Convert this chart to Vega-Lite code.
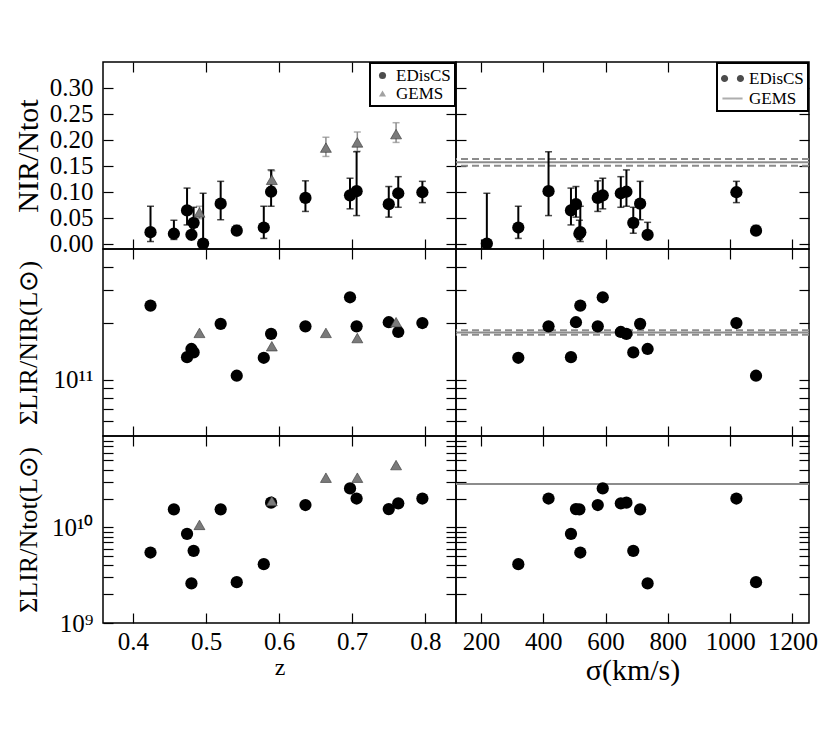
{
  "$schema": "https://vega.github.io/schema/vega-lite/v6.json",
  "padding": {"left": 12, "top": 60, "right": 5, "bottom": 5},
  "background": "white",
  "datasets": {
    "cl": [
      {"z": 0.424, "sig": 519, "f": 0.022, "flo": 0.004, "fhi": 0.072, "a": 2.49e11, "b": 5.45e9, "s": "EDisCS"},
      {"z": 0.456, "sig": 516, "f": 0.019, "flo": 0.008, "fhi": 0.045, "a": 8.1e11, "b": 1.54e10, "s": "EDisCS"},
      {"z": 0.474, "sig": 489, "f": 0.064, "flo": 0.036, "fhi": 0.107, "a": 1.32e11, "b": 8.55e9, "s": "EDisCS"},
      {"z": 0.480, "sig": 735, "f": 0.017, "flo": 0.008, "fhi": 0.041, "a": 1.46e11, "b": 2.59e9, "s": "EDisCS"},
      {"z": 0.483, "sig": 689, "f": 0.040, "flo": 0.020, "fhi": 0.070, "a": 1.40e11, "b": 5.68e9, "s": "EDisCS"},
      {"z": 0.496, "sig": 219, "f": 0.0, "flo": 0.0, "fhi": 0.097, "a": null, "b": null, "s": "EDisCS"},
      {"z": 0.520, "sig": 711, "f": 0.077, "flo": 0.046, "fhi": 0.120, "a": 1.99e11, "b": 1.54e10, "s": "EDisCS"},
      {"z": 0.542, "sig": 1083, "f": 0.025, "flo": 0.018, "fhi": 0.035, "a": 1.05e11, "b": 2.67e9, "s": "EDisCS"},
      {"z": 0.579, "sig": 320, "f": 0.031, "flo": 0.010, "fhi": 0.072, "a": 1.31e11, "b": 4.12e9, "s": "EDisCS"},
      {"z": 0.589, "sig": 667, "f": 0.100, "flo": 0.072, "fhi": 0.142, "a": 1.76e11, "b": 1.81e10, "s": "EDisCS"},
      {"z": 0.636, "sig": 575, "f": 0.088, "flo": 0.062, "fhi": 0.121, "a": 1.93e11, "b": 1.71e10, "s": "EDisCS"},
      {"z": 0.697, "sig": 591, "f": 0.093, "flo": 0.067, "fhi": 0.126, "a": 2.76e11, "b": 2.55e10, "s": "EDisCS"},
      {"z": 0.706, "sig": 417, "f": 0.101, "flo": 0.054, "fhi": 0.177, "a": 1.93e11, "b": 2.0e10, "s": "EDisCS"},
      {"z": 0.750, "sig": 505, "f": 0.076, "flo": 0.051, "fhi": 0.110, "a": 2.03e11, "b": 1.55e10, "s": "EDisCS"},
      {"z": 0.763, "sig": 649, "f": 0.097, "flo": 0.070, "fhi": 0.129, "a": 1.80e11, "b": 1.78e10, "s": "EDisCS"},
      {"z": 0.796, "sig": 1020, "f": 0.099, "flo": 0.079, "fhi": 0.120, "a": 2.01e11, "b": 2.0e10, "s": "EDisCS"}
    ],
    "gm": [
      {"z": 0.491, "f": 0.060, "flo": 0.048, "fhi": 0.072, "a": 1.78e11, "b": 1.06e10, "s": "GEMS"},
      {"z": 0.590, "f": 0.123, "flo": 0.110, "fhi": 0.140, "a": 1.51e11, "b": 1.88e10, "s": "GEMS"},
      {"z": 0.664, "f": 0.185, "flo": 0.168, "fhi": 0.205, "a": 1.78e11, "b": 3.3e10, "s": "GEMS"},
      {"z": 0.707, "f": 0.195, "flo": 0.178, "fhi": 0.215, "a": 1.67e11, "b": 3.3e10, "s": "GEMS"},
      {"z": 0.760, "f": 0.211, "flo": 0.195, "fhi": 0.233, "a": 2.03e11, "b": 4.47e10, "s": "GEMS"}
    ],
    "gl": [{"f": 0.157, "a": 1.79e11, "b": 2.83e10}],
    "gb": [{"f": 0.150, "a": 1.74e11}, {"f": 0.163, "a": 1.84e11}]
  },
  "columns": 2,
  "spacing": 0,
  "bounds": "flush",
  "concat": [
    {
      "width": 353, "height": 187,
      "encoding": {
        "x": {"field": "z", "type": "quantitative", "axis": null},
        "y": {"field": "f", "type": "quantitative", "axis": null}
      },
      "layer": [
        {"data": {"name": "cl"}, "mark": {"type": "point", "opacity": 0},
         "encoding": {
           "x": {"field": "z", "type": "quantitative", "scale": {"domain": [0.359, 0.842], "nice": false, "zero": false},
                 "axis": {"orient": "bottom", "values": [0.4, 0.5, 0.6, 0.7, 0.8], "labels": false, "title": null}},
           "y": {"field": "f", "type": "quantitative", "scale": {"domain": [-0.0104, 0.35], "nice": false, "zero": false},
                 "axis": {"orient": "left", "values": [0, 0.05, 0.1, 0.15, 0.2, 0.25, 0.3], "format": ".2f", "title": "NIR/Ntot", "titleX": -75, "titleBaseline": "middle"}}
         }},
        {"data": {"name": "cl"}, "mark": {"type": "point", "opacity": 0},
         "encoding": {
           "x": {"field": "z", "type": "quantitative", "axis": {"orient": "top", "values": [0.4, 0.5, 0.6, 0.7, 0.8], "labels": false, "title": null}},
           "y": {"field": "f", "type": "quantitative", "axis": {"orient": "right", "values": [0, 0.05, 0.1, 0.15, 0.2, 0.25, 0.3], "labels": false, "title": null}}
         }},
        {"data": {"name": "gm"}, "mark": {"type": "rule", "color": "#8c8c8c", "strokeWidth": 1.5},
         "encoding": {"y": {"field": "flo", "type": "quantitative", "axis": null}, "y2": {"field": "fhi"}}},
        {"data": {"name": "gm"}, "mark": {"type": "tick", "orient": "horizontal", "color": "#8c8c8c", "size": 7, "thickness": 1.5},
         "encoding": {"y": {"field": "flo", "type": "quantitative", "axis": null}}},
        {"data": {"name": "gm"}, "mark": {"type": "tick", "orient": "horizontal", "color": "#8c8c8c", "size": 7, "thickness": 1.5},
         "encoding": {"y": {"field": "fhi", "type": "quantitative", "axis": null}}},
        {"data": {"name": "cl"}, "mark": {"type": "rule", "color": "black", "strokeWidth": 2},
         "encoding": {"y": {"field": "flo", "type": "quantitative", "axis": null}, "y2": {"field": "fhi"}}},
        {"data": {"name": "cl"}, "mark": {"type": "tick", "orient": "horizontal", "color": "black", "size": 7, "thickness": 1.5},
         "encoding": {"y": {"field": "flo", "type": "quantitative", "axis": null}}},
        {"data": {"name": "cl"}, "mark": {"type": "tick", "orient": "horizontal", "color": "black", "size": 7, "thickness": 1.5},
         "encoding": {"y": {"field": "fhi", "type": "quantitative", "axis": null}}},
        {"data": {"name": "cl"}, "mark": {"type": "point", "shape": "circle", "filled": true, "color": "black", "size": 150, "opacity": 1, "clip": true}},
        {"data": {"name": "gm"}, "mark": {"type": "point", "shape": "triangle-up", "filled": true, "color": "#7a7a7a", "stroke": "#333333", "strokeWidth": 0.6, "size": 120, "opacity": 1, "clip": true}},
        {"data": {"name": "cl"}, "transform": [{"filter": "false"}], "mark": {"type": "point", "filled": true},
         "encoding": {
           "color": {"field": "s", "type": "nominal", "scale": {"domain": ["EDisCS", "GEMS"], "range": ["black", "#7a7a7a"]}, "legend": {"symbolSize": 50, "padding": 4}},
           "shape": {"field": "s", "type": "nominal", "scale": {"domain": ["EDisCS", "GEMS"], "range": ["circle", "triangle-up"]}, "legend": {"symbolSize": 50, "padding": 4}}
         }}
      ],
      "resolve": {"axis": {"x": "independent", "y": "independent"}}
    },
    {
      "width": 353, "height": 187,
      "encoding": {
        "y": {"field": "f", "type": "quantitative", "axis": null}
      },
      "layer": [
        {"data": {"name": "cl"}, "mark": {"type": "point", "opacity": 0},
         "encoding": {
           "x": {"field": "sig", "type": "quantitative", "scale": {"domain": [120, 1253], "nice": false, "zero": false},
                 "axis": {"orient": "bottom", "values": [200, 400, 600, 800, 1000, 1200], "labels": false, "title": null}},
           "y": {"field": "f", "type": "quantitative", "scale": {"domain": [-0.0104, 0.35], "nice": false, "zero": false},
                 "axis": {"orient": "left", "values": [0, 0.05, 0.1, 0.15, 0.2, 0.25, 0.3], "labels": false, "title": null}}
         }},
        {"data": {"name": "cl"}, "mark": {"type": "point", "opacity": 0},
         "encoding": {
           "x": {"field": "sig", "type": "quantitative", "axis": {"orient": "top", "values": [200, 400, 600, 800, 1000, 1200], "labels": false, "title": null}},
           "y": {"field": "f", "type": "quantitative", "axis": {"orient": "right", "values": [0, 0.05, 0.1, 0.15, 0.2, 0.25, 0.3], "labels": false, "title": null}}
         }},
        {"data": {"name": "gl"}, "mark": {"type": "rule", "color": "#8c8c8c", "strokeWidth": 2}, "encoding": {}},
        {"data": {"name": "gb"}, "mark": {"type": "rule", "color": "#8c8c8c", "strokeWidth": 2, "strokeDash": [7, 4]}, "encoding": {}},
        {"data": {"name": "cl"}, "mark": {"type": "rule", "color": "black", "strokeWidth": 2},
         "encoding": {"x": {"field": "sig", "type": "quantitative", "axis": null}, "y": {"field": "flo", "type": "quantitative", "axis": null}, "y2": {"field": "fhi"}}},
        {"data": {"name": "cl"}, "mark": {"type": "tick", "orient": "horizontal", "color": "black", "size": 7, "thickness": 1.5},
         "encoding": {"x": {"field": "sig", "type": "quantitative", "axis": null}, "y": {"field": "flo", "type": "quantitative", "axis": null}}},
        {"data": {"name": "cl"}, "mark": {"type": "tick", "orient": "horizontal", "color": "black", "size": 7, "thickness": 1.5},
         "encoding": {"x": {"field": "sig", "type": "quantitative", "axis": null}, "y": {"field": "fhi", "type": "quantitative", "axis": null}}},
        {"data": {"name": "cl"}, "mark": {"type": "point", "shape": "circle", "filled": true, "color": "black", "size": 150, "opacity": 1, "clip": true},
         "encoding": {"x": {"field": "sig", "type": "quantitative", "axis": null}}},
        {"data": {"name": "cl"}, "transform": [{"filter": "false"}], "mark": {"type": "point", "filled": true},
         "encoding": {
           "x": {"field": "sig", "type": "quantitative", "axis": null},
           "color": {"field": "s", "type": "nominal", "scale": {"domain": ["EDisCS", "GEMS"], "range": ["black", "#8c8c8c"]}, "legend": {"symbolSize": 500, "padding": 4}},
           "shape": {"field": "s", "type": "nominal", "scale": {"domain": ["EDisCS", "GEMS"], "range": ["M-1.03,0A0.32,0.32,0,1,1,-0.39,0A0.32,0.32,0,1,1,-1.03,0ZM0.39,0A0.32,0.32,0,1,1,1.03,0A0.32,0.32,0,1,1,0.39,0Z", "M-0.9,-0.09H0.9V0.09H-0.9Z"]}, "legend": {"symbolSize": 500, "padding": 4}}
         }}
      ],
      "resolve": {"axis": {"x": "independent", "y": "independent"}}
    },
    {
      "width": 353, "height": 187,
      "encoding": {
        "x": {"field": "z", "type": "quantitative", "axis": null},
        "y": {"field": "a", "type": "quantitative", "axis": null}
      },
      "layer": [
        {"data": {"name": "cl"}, "mark": {"type": "point", "opacity": 0},
         "encoding": {
           "x": {"field": "z", "type": "quantitative", "scale": {"domain": [0.359, 0.842], "nice": false, "zero": false},
                 "axis": {"orient": "bottom", "values": [0.4, 0.5, 0.6, 0.7, 0.8], "labels": false, "title": null}},
           "y": {"field": "a", "type": "quantitative", "scale": {"type": "log", "domain": [5e10, 5e11], "nice": false},
                 "axis": {"orient": "left", "values": [6e10, 7e10, 8e10, 9e10, 1e11, 2e11, 3e11, 4e11], "labelExpr": "datum.value == 1e11 ? '10¹¹' : ''", "title": "ΣLIR/NIR(L⊙)", "titleFontSize": 26, "titleX": -75, "titleBaseline": "middle"}}
         }},
        {"data": {"name": "cl"}, "mark": {"type": "point", "opacity": 0},
         "encoding": {
           "x": {"field": "z", "type": "quantitative", "axis": {"orient": "top", "values": [0.4, 0.5, 0.6, 0.7, 0.8], "labels": false, "title": null}},
           "y": {"field": "a", "type": "quantitative", "axis": {"orient": "right", "values": [6e10, 7e10, 8e10, 9e10, 1e11, 2e11, 3e11, 4e11], "labels": false, "title": null}}
         }},
        {"data": {"name": "cl"}, "mark": {"type": "point", "shape": "circle", "filled": true, "color": "black", "size": 150, "opacity": 1, "clip": true}},
        {"data": {"name": "gm"}, "mark": {"type": "point", "shape": "triangle-up", "filled": true, "color": "#7a7a7a", "stroke": "#333333", "strokeWidth": 0.6, "size": 120, "opacity": 1, "clip": true}}
      ],
      "resolve": {"axis": {"x": "independent", "y": "independent"}}
    },
    {
      "width": 353, "height": 187,
      "encoding": {
        "y": {"field": "a", "type": "quantitative", "axis": null}
      },
      "layer": [
        {"data": {"name": "cl"}, "mark": {"type": "point", "opacity": 0},
         "encoding": {
           "x": {"field": "sig", "type": "quantitative", "scale": {"domain": [120, 1253], "nice": false, "zero": false},
                 "axis": {"orient": "bottom", "values": [200, 400, 600, 800, 1000, 1200], "labels": false, "title": null}},
           "y": {"field": "a", "type": "quantitative", "scale": {"type": "log", "domain": [5e10, 5e11], "nice": false},
                 "axis": {"orient": "left", "values": [6e10, 7e10, 8e10, 9e10, 1e11, 2e11, 3e11, 4e11], "labels": false, "title": null}}
         }},
        {"data": {"name": "cl"}, "mark": {"type": "point", "opacity": 0},
         "encoding": {
           "x": {"field": "sig", "type": "quantitative", "axis": {"orient": "top", "values": [200, 400, 600, 800, 1000, 1200], "labels": false, "title": null}},
           "y": {"field": "a", "type": "quantitative", "axis": {"orient": "right", "values": [6e10, 7e10, 8e10, 9e10, 1e11, 2e11, 3e11, 4e11], "labels": false, "title": null}}
         }},
        {"data": {"name": "gl"}, "mark": {"type": "rule", "color": "#8c8c8c", "strokeWidth": 2}, "encoding": {}},
        {"data": {"name": "gb"}, "mark": {"type": "rule", "color": "#8c8c8c", "strokeWidth": 2, "strokeDash": [7, 4]}, "encoding": {}},
        {"data": {"name": "cl"}, "mark": {"type": "point", "shape": "circle", "filled": true, "color": "black", "size": 150, "opacity": 1, "clip": true},
         "encoding": {"x": {"field": "sig", "type": "quantitative", "axis": null}}}
      ],
      "resolve": {"axis": {"x": "independent", "y": "independent"}}
    },
    {
      "width": 353, "height": 187,
      "encoding": {
        "x": {"field": "z", "type": "quantitative", "axis": null},
        "y": {"field": "b", "type": "quantitative", "axis": null}
      },
      "layer": [
        {"data": {"name": "cl"}, "mark": {"type": "point", "opacity": 0},
         "encoding": {
           "x": {"field": "z", "type": "quantitative", "scale": {"domain": [0.359, 0.842], "nice": false, "zero": false},
                 "axis": {"orient": "bottom", "values": [0.4, 0.5, 0.6, 0.7, 0.8], "format": ".1f", "title": "z", "titleFontSize": 24, "titleY": 51, "titleBaseline": "alphabetic"}},
           "y": {"field": "b", "type": "quantitative", "scale": {"type": "log", "domain": [1e9, 9e10], "nice": false},
                 "axis": {"orient": "left", "values": [1e9, 2e9, 3e9, 4e9, 5e9, 6e9, 7e9, 8e9, 9e9, 1e10, 2e10, 3e10, 4e10, 5e10, 6e10, 7e10, 8e10], "labelExpr": "datum.value == 1e10 ? '10¹⁰' : datum.value == 1e9 ? '10⁹' : ''", "title": "ΣLIR/Ntot(L⊙)", "titleFontSize": 26, "titleX": -75, "titleBaseline": "middle"}}
         }},
        {"data": {"name": "cl"}, "mark": {"type": "point", "opacity": 0},
         "encoding": {
           "x": {"field": "z", "type": "quantitative", "axis": {"orient": "top", "values": [0.4, 0.5, 0.6, 0.7, 0.8], "labels": false, "title": null}},
           "y": {"field": "b", "type": "quantitative", "axis": {"orient": "right", "values": [2e9, 3e9, 4e9, 5e9, 6e9, 7e9, 8e9, 9e9, 1e10, 2e10, 3e10, 4e10, 5e10, 6e10, 7e10, 8e10], "labels": false, "title": null}}
         }},
        {"data": {"name": "cl"}, "mark": {"type": "point", "shape": "circle", "filled": true, "color": "black", "size": 150, "opacity": 1, "clip": true}},
        {"data": {"name": "gm"}, "mark": {"type": "point", "shape": "triangle-up", "filled": true, "color": "#7a7a7a", "stroke": "#333333", "strokeWidth": 0.6, "size": 120, "opacity": 1, "clip": true}}
      ],
      "resolve": {"axis": {"x": "independent", "y": "independent"}}
    },
    {
      "width": 353, "height": 187,
      "encoding": {
        "y": {"field": "b", "type": "quantitative", "axis": null}
      },
      "layer": [
        {"data": {"name": "cl"}, "mark": {"type": "point", "opacity": 0},
         "encoding": {
           "x": {"field": "sig", "type": "quantitative", "scale": {"domain": [120, 1253], "nice": false, "zero": false},
                 "axis": {"orient": "bottom", "values": [200, 400, 600, 800, 1000, 1200], "format": "d", "title": "σ(km/s)", "titleY": 56, "titleBaseline": "alphabetic"}},
           "y": {"field": "b", "type": "quantitative", "scale": {"type": "log", "domain": [1e9, 9e10], "nice": false},
                 "axis": {"orient": "left", "values": [2e9, 3e9, 4e9, 5e9, 6e9, 7e9, 8e9, 9e9, 1e10, 2e10, 3e10, 4e10, 5e10, 6e10, 7e10, 8e10], "labels": false, "title": null}}
         }},
        {"data": {"name": "cl"}, "mark": {"type": "point", "opacity": 0},
         "encoding": {
           "x": {"field": "sig", "type": "quantitative", "axis": {"orient": "top", "values": [200, 400, 600, 800, 1000, 1200], "labels": false, "title": null}},
           "y": {"field": "b", "type": "quantitative", "axis": {"orient": "right", "values": [2e9, 3e9, 4e9, 5e9, 6e9, 7e9, 8e9, 9e9, 1e10, 2e10, 3e10, 4e10, 5e10, 6e10, 7e10, 8e10], "labels": false, "title": null}}
         }},
        {"data": {"name": "gl"}, "mark": {"type": "rule", "color": "#8c8c8c", "strokeWidth": 2}, "encoding": {}},
        {"data": {"name": "cl"}, "mark": {"type": "point", "shape": "circle", "filled": true, "color": "black", "size": 150, "opacity": 1, "clip": true},
         "encoding": {"x": {"field": "sig", "type": "quantitative", "axis": null}}}
      ],
      "resolve": {"axis": {"x": "independent", "y": "independent"}}
    }
  ],
  "resolve": {
    "scale": {"x": "independent", "y": "independent", "color": "independent", "shape": "independent"},
    "axis": {"x": "independent", "y": "independent"},
    "legend": {"color": "independent", "shape": "independent"}
  },
  "config": {
    "font": "Liberation Serif",
    "view": {"stroke": "black", "strokeWidth": 1.5},
    "concat": {"spacing": 0},
    "axis": {
      "domain": false, "grid": false, "tickSize": -10, "tickColor": "black", "tickWidth": 1.2,
      "labelFont": "Liberation Serif", "labelFontSize": 25, "labelColor": "black", "labelPadding": 20,
      "labelFlush": false, "labelOverlap": false,
      "titleFont": "Liberation Serif", "titleFontSize": 30, "titleFontWeight": "normal", "titleColor": "black"
    },
    "axisBottom": {"labelPadding": 16},
    "legend": {
      "orient": "top-right", "offset": 1, "title": null, "padding": 4, "rowPadding": 0,
      "labelFont": "Liberation Serif", "labelFontSize": 17, "labelColor": "black", "labelOffset": 5,
      "strokeColor": "black", "strokeWidth": 2, "fillColor": "white", "symbolStrokeWidth": 0
    }
  }
}
